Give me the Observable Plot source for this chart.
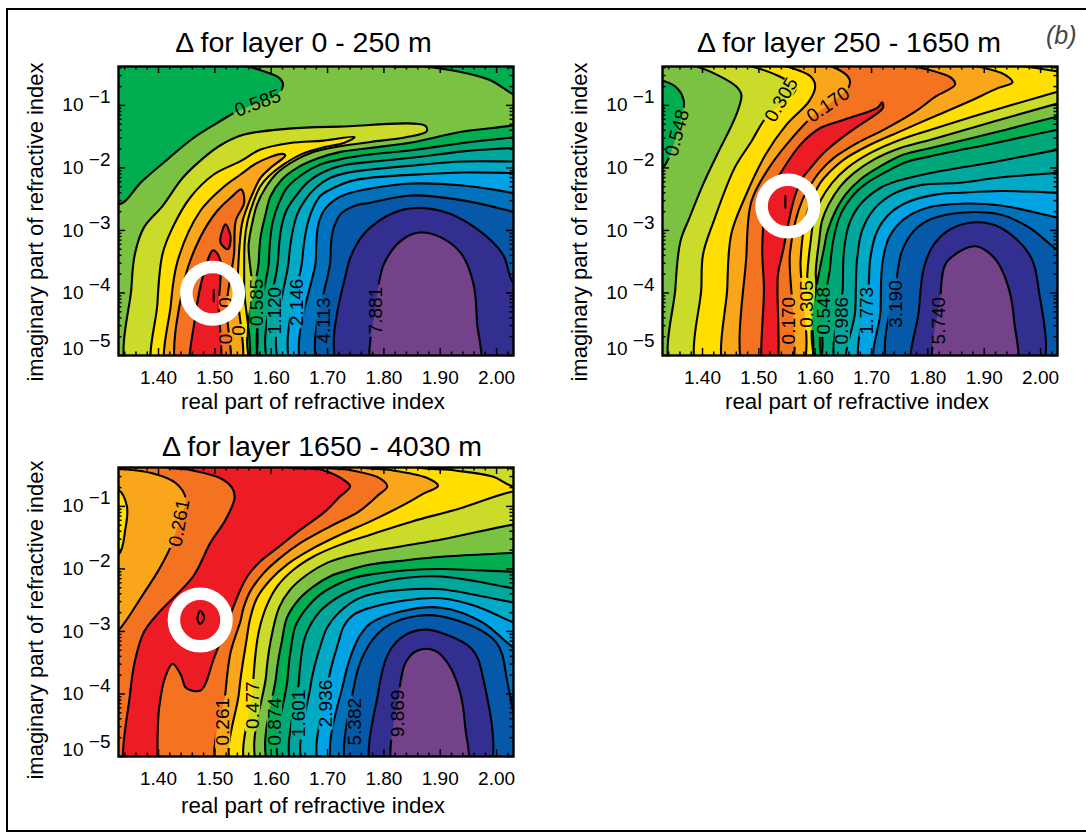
<!DOCTYPE html>
<html><head><meta charset="utf-8">
<style>
html,body{margin:0;padding:0;background:#fff;}
#page{position:relative;width:1086px;height:833px;overflow:hidden;}
#box{position:absolute;left:6px;top:8px;width:1100px;height:824px;border:2.3px solid #000;box-sizing:border-box;}
.p{position:absolute;}
</style>
<script src="https://cdn.jsdelivr.net/npm/d3@7"></script>
<script src="https://cdn.jsdelivr.net/npm/@observablehq/plot@0.6"></script>
</head><body><div id="page"><div id="box"></div></div>
<script>
// band colours, low Delta to high Delta
const bandColors=["#ed1c24","#f37321","#faa61a","#ffde00","#cbdb2a","#7cc242","#00ad4f","#00a878","#00a79d","#00aac4","#00a4e4","#0072bc","#0559a8","#322f90","#744289"];
const SE=[2.1,-5.5],NE=[2.1,0.1],NW=[1.28,0.1];
const xMajor=[1.4,1.5,1.6,1.7,1.8,1.9,2.0];
const xMinor=[1.34,1.36,1.38,1.42,1.44,1.46,1.48,1.52,1.54,1.56,1.58,1.62,1.64,1.66,1.68,1.72,1.74,1.76,1.78,1.82,1.84,1.86,1.88,1.92,1.94,1.96,1.98,2.02];
const yMajor=[1e-5,1e-4,1e-3,1e-2,1e-1];
const yMinorMult=[2,3,4,5,6,7,8,9];
// contours: [band, [[real part, log10 imaginary part], ...]]
const layerA=[
[6,[NW,[1.28,-2.3],[1.329,-2.583],[1.371,-2.211],[1.419,-1.839],[1.462,-1.521],[1.504,-1.282],[1.534,-1.122],[1.576,-.963],[1.609,-.84],[1.621,-.67],[1.615,-.564],[1.588,-.458],[1.558,-.378],[1.49,-.3],[1.47,.1]]],
[6,[[1.78,.1],[1.8,-.33],[1.872,-.378],[1.932,-.458],[1.987,-.591],[2.031,-.83],[2.1,-1.1],NE]],
[4,[[1.35,-5.3],[1.352,-3.911],[1.358,-3.38],[1.374,-2.955],[1.407,-2.61],[1.443,-2.158],[1.48,-1.839],[1.51,-1.637],[1.552,-1.467],[1.631,-1.372],[1.721,-1.34],[1.873,-1.324],[1.876,-1.414],[1.839,-1.51],[1.776,-1.584],[1.723,-1.653],[1.676,-1.743],[1.64,-1.892],[1.611,-2.078],[1.59,-2.317],[1.575,-2.583],[1.566,-2.9],[1.56,-3.22],[1.56,-5.3]]],
[3,[[1.395,-5.3],[1.398,-4.177],[1.407,-3.38],[1.425,-2.955],[1.456,-2.477],[1.498,-2.105],[1.5455,-1.892],[1.581,-1.706],[1.634,-1.6],[1.693,-1.563],[1.748,-1.505],[1.729,-1.6],[1.693,-1.669],[1.655,-1.775],[1.622,-1.945],[1.596,-2.131],[1.581,-2.29],[1.569,-2.53],[1.558,-2.848],[1.553,-3.167],[1.552,-3.911],[1.551,-5.3]]],
[2,[[1.418,-5.3],[1.422,-4.177],[1.434,-3.486],[1.474,-2.689],[1.516,-2.3],[1.5455,-2.105],[1.575,-1.919],[1.619,-1.775],[1.625,-1.8],[1.599,-1.998],[1.581,-2.158],[1.569,-2.37],[1.557,-2.636],[1.548,-2.9],[1.54,-3.911],[1.54,-5.3]]],
[1,[[1.437,-5.3],[1.446,-3.805],[1.474,-3.114],[1.504,-2.689],[1.528,-2.477],[1.547,-2.344],[1.552,-2.556],[1.537,-2.849],[1.534,-3.38],[1.521,-4.177],[1.521,-5.3]]],
[0,[[1.46,-5.3],[1.466,-4.336],[1.48,-3.699],[1.497,-3.316],[1.509,-3.459],[1.507,-4.177],[1.504,-5.3]]],
[0,[[1.519,-2.902],[1.528,-3.114],[1.523,-3.3],[1.51,-3.194],[1.513,-3.008]]],
[0,[[1.498,-3.953],[1.498,-4.134]]],
[6,[[2.1,-1.2],[2.03,-1.32],[1.94,-1.418],[1.849,-1.593],[1.776,-1.68],[1.723,-1.743],[1.682,-1.85],[1.646,-1.998],[1.619,-2.184],[1.599,-2.45],[1.59,-2.742],[1.581,-3.114],[1.578,-3.486],[1.575,-5.3],SE]],
[7,[[2.1,-1.45],[2.03,-1.511],[1.94,-1.6],[1.849,-1.718],[1.776,-1.786],[1.729,-1.85],[1.687,-1.945],[1.655,-2.105],[1.628,-2.317],[1.614,-2.556],[1.603,-2.848],[1.598,-3.167],[1.596,-3.486],[1.591,-5.3],SE]],
[8,[[2.1,-1.64],[2.03,-1.68],[1.94,-1.735],[1.849,-1.838],[1.776,-1.903],[1.735,-1.945],[1.699,-2.041],[1.667,-2.211],[1.646,-2.423],[1.628,-2.662],[1.618,-2.954],[1.612,-3.486],[1.606,-5.3],SE]],
[9,[[2.1,-1.9],[2.03,-1.898],[1.94,-1.898],[1.849,-1.963],[1.776,-2.025],[1.735,-2.078],[1.705,-2.158],[1.679,-2.317],[1.661,-2.503],[1.646,-2.742],[1.637,-3.061],[1.631,-3.486],[1.625,-5.3],SE]],
[10,[[2.1,-2.1],[2.03,-2.083],[1.94,-2.072],[1.849,-2.11],[1.776,-2.158],[1.741,-2.211],[1.711,-2.317],[1.687,-2.45],[1.672,-2.689],[1.663,-2.954],[1.658,-3.22],[1.655,-3.486],[1.644,-5.3],SE]],
[11,[[2.1,-2.5],[2.03,-2.399],[1.94,-2.28],[1.849,-2.25],[1.776,-2.33],[1.741,-2.397],[1.714,-2.503],[1.693,-2.689],[1.683,-2.928],[1.68,-3.22],[1.679,-3.486],[1.662,-5.3],SE]],
[12,[[2.1,-2.85],[2.03,-2.699],[1.94,-2.519],[1.849,-2.44],[1.776,-2.556],[1.747,-2.609],[1.723,-2.742],[1.711,-2.954],[1.706,-3.22],[1.705,-3.486],[1.691,-5.3],SE]],
[13,[[2.1,-4.2],[2.031,-3.858],[2.011,-3.38],[1.962,-2.955],[1.902,-2.689],[1.836,-2.663],[1.776,-2.95],[1.75,-3.247],[1.735,-3.6],[1.726,-5.3],SE]],
[14,[[1.784,-5.3],[1.786,-4.177],[1.79,-3.911],[1.8,-3.539],[1.83,-3.167],[1.863,-3.034],[1.902,-3.114],[1.938,-3.38],[1.959,-3.858],[1.965,-4.442],[1.965,-5.3]]]
];
const layerB=[
[6,[[1.28,-.55],[1.33,-.607],[1.355,-.724],[1.367,-.936],[1.361,-1.255],[1.349,-1.627],[1.33,-1.999],[1.28,-2.3]]],
[4,[[1.351,-5.3],[1.352,-3.911],[1.361,-3.167],[1.377,-2.796],[1.401,-2.264],[1.426,-1.786],[1.46,-1.149],[1.469,-.83],[1.46,-.697],[1.426,-.511],[1.389,-.378],[1.33,-.3],[1.31,.1],NE,[2.1,-.8],[2.032,-.963],[1.92,-1.25],[1.805,-1.548],[1.751,-1.68],[1.704,-1.866],[1.669,-2.079],[1.645,-2.291],[1.624,-2.583],[1.612,-2.849],[1.607,-3.168],[1.601,-3.645],[1.598,-5.3]]],
[3,[[1.396,-5.3],[1.398,-3.911],[1.401,-3.38],[1.42,-2.849],[1.457,-1.999],[1.487,-1.574],[1.512,-1.202],[1.565,-.75],[1.56,-.67],[1.537,-.538],[1.487,-.378],[1.43,-.3],[1.41,.1],NE,[2.1,-.6],[2.032,-.777],[1.92,-1.07],[1.805,-1.388],[1.751,-1.548],[1.698,-1.76],[1.657,-1.999],[1.63,-2.238],[1.609,-2.53],[1.598,-2.796],[1.592,-3.168],[1.586,-3.7],[1.583,-5.3]]],
[4,[[1.88,.1],[1.9,-.3],[1.974,-.378],[2.032,-.458],[2.1,-.5],NE]],
[2,[[1.444,-5.3],[1.444,-3.911],[1.451,-3.061],[1.475,-2.477],[1.512,-1.786],[1.549,-1.308],[1.589,-.936],[1.6,-.697],[1.592,-.538],[1.549,-.378],[1.5,-.3],[1.48,.1],[1.8,.1],[1.82,-.3],[1.888,-.378],[1.937,-.511],[1.95,-.633],[1.925,-.72],[1.87,-.95],[1.805,-1.202],[1.751,-1.415],[1.692,-1.654],[1.651,-1.866],[1.624,-2.079],[1.609,-2.238],[1.59,-2.6],[1.58,-2.955],[1.574,-3.486],[1.571,-5.3]]],
[1,[[1.478,-5.3],[1.478,-3.38],[1.487,-2.53],[1.518,-1.999],[1.549,-1.627],[1.589,-1.228],[1.623,-.989],[1.66,-.697],[1.66,-.564],[1.629,-.378],[1.58,-.3],[1.56,.1],[1.69,.1],[1.71,-.3],[1.777,-.378],[1.842,-.564],[1.848,-.67],[1.814,-.857],[1.778,-1.096],[1.722,-1.388],[1.675,-1.6],[1.633,-1.84],[1.609,-2.052],[1.598,-2.185],[1.578,-2.5],[1.565,-2.849],[1.555,-3.38],[1.552,-5.3]]],
[0,[[1.51,-5.3],[1.509,-3.911],[1.506,-3.274],[1.512,-2.636],[1.521,-2.37],[1.537,-2.105],[1.574,-1.627],[1.609,-1.362],[1.651,-1.229],[1.71,-1.04],[1.719,-.952],[1.72,-1.042],[1.68,-1.308],[1.651,-1.494],[1.615,-1.76],[1.592,-1.999],[1.58,-2.13],[1.565,-2.424],[1.552,-2.902],[1.543,-3.327],[1.534,-3.699],[1.528,-5.3]]],
[0,[[1.547,-2.45],[1.547,-2.636]]],
[6,[[2.1,-1.05],[2.032,-1.175],[1.92,-1.43],[1.805,-1.68],[1.757,-1.787],[1.716,-1.972],[1.68,-2.185],[1.654,-2.424],[1.636,-2.69],[1.624,-2.955],[1.618,-3.168],[1.614,-5.3],SE]],
[7,[[2.1,-1.3],[2.032,-1.388],[1.92,-1.6],[1.805,-1.813],[1.763,-1.903],[1.728,-2.052],[1.692,-2.24],[1.669,-2.42],[1.645,-2.742],[1.633,-3.114],[1.627,-3.539],[1.626,-5.3],SE]],
[8,[[2.1,-1.6],[2.032,-1.706],[1.92,-1.9],[1.805,-2.08],[1.745,-2.211],[1.716,-2.317],[1.68,-2.583],[1.66,-2.902],[1.651,-3.327],[1.649,-3.911],[1.646,-5.3],SE]],
[9,[[2.1,-2.04],[2.032,-2.078],[1.93,-2.15],[1.858,-2.238],[1.787,-2.275],[1.737,-2.423],[1.704,-2.663],[1.683,-3.008],[1.674,-3.486],[1.671,-4.283],[1.663,-5.3],SE]],
[10,[[2.1,-2.42],[2.032,-2.397],[1.93,-2.37],[1.858,-2.397],[1.816,-2.423],[1.769,-2.53],[1.734,-2.716],[1.71,-3.008],[1.698,-3.433],[1.695,-3.911],[1.688,-5.3],SE]],
[11,[[2.1,-2.9],[2.032,-2.796],[1.93,-2.6],[1.858,-2.572],[1.799,-2.636],[1.757,-2.822],[1.731,-3.114],[1.719,-3.539],[1.716,-4.283],[1.712,-5.3],SE]],
[12,[[2.1,-3.7],[2.032,-3.327],[1.98,-2.955],[1.93,-2.75],[1.858,-2.716],[1.805,-2.822],[1.775,-3.008],[1.754,-3.327],[1.745,-3.752],[1.737,-5.3],SE]],
[13,[[1.777,-5.3],[1.784,-4.283],[1.793,-3.592],[1.811,-3.22],[1.84,-2.981],[1.885,-2.87],[1.93,-2.96],[1.98,-3.38],[1.996,-3.911],[1.996,-5.3]]],
[14,[[1.816,-5.3],[1.822,-4.07],[1.831,-3.539],[1.858,-3.327],[1.875,-3.26],[1.891,-3.263],[1.922,-3.486],[1.943,-3.911],[1.953,-4.442],[1.953,-5.3]]]
];
const layerC=[
[2,[[1.28,-.38],[1.33,-.4],[1.389,-.47],[1.431,-.629],[1.448,-.868],[1.434,-1.318],[1.422,-1.636],[1.401,-2.007],[1.371,-2.43],[1.329,-2.987],[1.28,-3.4]]],
[3,[[1.329,-.735],[1.344,-1],[1.341,-1.371],[1.329,-1.768],[1.29,-1.8],[1.29,-.7]]],
[0,[[1.344,-5.3],[1.35,-3.967],[1.359,-3.437],[1.374,-3.013],[1.401,-2.695],[1.462,-2.113],[1.492,-1.583],[1.519,-1.212],[1.535,-.868],[1.531,-.709],[1.51,-.55],[1.456,-.417],[1.4,-.33],[1.38,.1],[1.6,.1],[1.62,-.33],[1.691,-.417],[1.733,-.603],[1.74,-.682],[1.721,-.85],[1.696,-1.08],[1.652,-1.372],[1.611,-1.664],[1.581,-1.877],[1.56,-2.089],[1.5455,-2.328],[1.516,-3.013],[1.498,-3.437],[1.475,-3.94],[1.449,-3.903],[1.44,-3.702],[1.425,-3.517],[1.413,-3.702],[1.401,-4.232],[1.398,-5],[1.398,-5.3]]],
[0,[[1.474,-2.669],[1.481,-2.775],[1.474,-2.881],[1.469,-2.801]]],
[2,[[1.512,-5.3],[1.519,-3.967],[1.528,-3.331],[1.5455,-2.833],[1.551,-2.62],[1.563,-2.355],[1.587,-2.063],[1.616,-1.824],[1.652,-1.585],[1.705,-1.319],[1.756,-1.08],[1.79,-.82],[1.806,-.682],[1.793,-.55],[1.739,-.417],[1.68,-.33],[1.66,.1],NE,SE]],
[3,[[1.538,-5.3],[1.543,-3.967],[1.556,-3.152],[1.563,-2.78],[1.575,-2.461],[1.599,-2.169],[1.628,-1.93],[1.67,-1.691],[1.723,-1.452],[1.776,-1.239],[1.83,-1],[1.872,-.788],[1.896,-.672],[1.878,-.55],[1.812,-.417],[1.75,-.33],[1.73,.1],NE,SE]],
[4,[[1.564,-5.3],[1.567,-3.967],[1.575,-3.152],[1.581,-2.886],[1.593,-2.567],[1.611,-2.275],[1.64,-2.01],[1.676,-1.797],[1.723,-1.611],[1.776,-1.452],[1.85,-1.24],[1.932,-1.04],[2.029,-.762],[2.08,-.72],[2.029,-.682],[1.993,-.523],[1.92,-.417],[1.85,-.33],[1.83,.1],NE,SE]],
[5,[[1.585,-5.3],[1.591,-3.702],[1.599,-3.152],[1.614,-2.62],[1.634,-2.328],[1.664,-2.089],[1.699,-1.903],[1.735,-1.797],[1.776,-1.72],[1.902,-1.53],[2.029,-1.291],[2.1,-1.2],SE]],
[6,[[1.605,-5.3],[1.609,-3.702],[1.619,-3.152],[1.628,-2.78],[1.649,-2.488],[1.676,-2.275],[1.705,-2.116],[1.741,-2.01],[1.776,-1.93],[1.84,-1.86],[1.902,-1.805],[2.029,-1.742],[2.1,-1.7],SE]],
[7,[[1.625,-5.3],[1.629,-3.755],[1.637,-3.152],[1.643,-2.913],[1.661,-2.647],[1.687,-2.408],[1.717,-2.249],[1.747,-2.142],[1.776,-2.09],[1.84,-2.02],[1.902,-2],[2.029,-2.044],[2.1,-2.05],SE]],
[8,[[1.646,-5.3],[1.649,-3.808],[1.658,-3.152],[1.667,-2.939],[1.687,-2.674],[1.717,-2.461],[1.747,-2.33],[1.776,-2.25],[1.84,-2.14],[1.902,-2.12],[1.965,-2.2],[2.029,-2.309],[2.1,-2.4],SE]],
[9,[[1.666,-5.3],[1.67,-3.861],[1.69,-3.152],[1.699,-2.939],[1.717,-2.727],[1.747,-2.51],[1.776,-2.41],[1.84,-2.33],[1.902,-2.325],[1.965,-2.42],[2.029,-2.536],[2.1,-2.65],SE]],
[10,[[1.694,-5.3],[1.7,-3.861],[1.72,-3.152],[1.729,-2.913],[1.747,-2.727],[1.776,-2.62],[1.84,-2.5],[1.902,-2.47],[1.965,-2.6],[2.029,-2.854],[2.1,-3.1],SE]],
[11,[[1.717,-5.3],[1.73,-3.75],[1.752,-3.152],[1.761,-3.019],[1.776,-2.87],[1.83,-2.68],[1.902,-2.62],[1.975,-2.854],[2.029,-3.252],[2.1,-3.6],SE]],
[12,[[1.742,-5.3],[1.745,-3.967],[1.766,-3.331],[1.8,-2.95],[1.86,-2.748],[1.932,-2.828],[1.999,-3.172],[2.017,-3.702],[2.021,-5.3]]],
[13,[[1.784,-5.3],[1.79,-3.967],[1.809,-3.331],[1.836,-3.066],[1.872,-2.971],[1.908,-3.04],[1.956,-3.278],[1.975,-3.702],[1.981,-5.3]]],
[14,[[1.821,-5.3],[1.827,-3.967],[1.839,-3.49],[1.86,-3.305],[1.89,-3.305],[1.914,-3.517],[1.935,-3.967],[1.944,-4.497],[1.944,-5.3]]]
];
// contour labels: [real part, log10 imaginary part, text, angle]
const labelsA=[[1.576,-.963,"0.585",-20],[1.575,-4.15,"0.585",-90],[1.606,-4.283,"1.120",-90],[1.646,-4.15,"2.146",-90],[1.694,-4.442,"4.113",-90],[1.786,-4.283,"7.881",-90],[1.519,-4.15,"0",-90],[1.519,-4.734,"0",-90],[1.543,-4.6,"0",-90]];
const labelsB=[[1.355,-1.441,"0.548",-75],[1.54,-.91,"0.305",-60],[1.623,-.989,"0.170",-35],[1.553,-4.442,"0.170",-90],[1.586,-4.177,"0.305",-90],[1.616,-4.283,"0.548",-90],[1.648,-4.442,"0.986",-90],[1.692,-4.283,"1.773",-90],[1.743,-4.177,"3.190",-90],[1.82,-4.442,"5.740",-90]];
const labelsC=[[1.437,-1.265,"0.261",-80],[1.514,-4.444,"0.261",-90],[1.567,-4.179,"0.477",-90],[1.606,-4.444,"0.874",-90],[1.649,-4.311,"1.601",-90],[1.697,-4.152,"2.936",-90],[1.748,-4.444,"5.382",-90],[1.824,-4.311,"9.869",-90]];
const titles=["\u0394 for layer 0 - 250 m","\u0394 for layer 250 - 1650 m","\u0394 for layer 1650 - 4030 m"];
const xTitle="real part of refractive index", yTitle="imaginary part of refractive index";
const circles=[[1.496,-4.004],[1.5515,-2.61],[1.474,-2.817]];
const baseBands=[5,5,1];
const ff="'Liberation Sans',Arial,sans-serif";
const labelSize=19;
const exponent=d=>"\u2212"+Math.round(-Math.log10(d));
function panel(i,contours,labels,box,extra=[]){
  const H=289;
  const yMinor=yMajor.flatMap(d=>yMinorMult.map(m=>d*m)).filter(d=>d<0.419);
  const pos={x:d=>d[0],y:d=>10**d[1]};
  const fig=Plot.plot({
    width:box.w,height:box.h,marginLeft:box.l,marginRight:box.r,marginTop:box.t,marginBottom:box.h-box.t-H,
    x:{domain:[1.329,2.03]},y:{type:"log",domain:[1e-5,0.419]},
    style:{background:"transparent",fontFamily:ff,color:"#000",overflow:"visible"},
    marks:[
      Plot.frame({fill:bandColors[baseBands[i]]}),
      ...contours.map(([b,pts])=>Plot.line(pts,{...pos,fill:bandColors[b],stroke:"none",curve:"catmull-rom-closed",clip:true})),
      ...contours.map(([b,pts])=>Plot.line(pts,{...pos,stroke:"#000",strokeWidth:2.1,curve:"catmull-rom-closed",clip:true})),
      ...labels.map(l=>Plot.text([l],{...pos,text:d=>d[2],rotate:l[3],fontSize:labelSize,fill:"#000",clip:true})),
      Plot.dot([circles[i]],{...pos,r:26.3,fill:"none",stroke:"#fff",strokeWidth:12.5}),
      Plot.tickX(xMajor,{x:d=>d,insetTop:H-7,strokeWidth:1.5,stroke:"#000"}),
      Plot.tickX(xMajor,{x:d=>d,insetBottom:H-7,strokeWidth:1.5,stroke:"#000"}),
      Plot.tickX(xMinor,{x:d=>d,insetTop:H-3.5,strokeWidth:1.5,stroke:"#000"}),
      Plot.tickX(xMinor,{x:d=>d,insetBottom:H-3.5,strokeWidth:1.5,stroke:"#000"}),
      Plot.tickY(yMajor,{y:d=>d,insetRight:395-7,strokeWidth:1.5,stroke:"#000"}),
      Plot.tickY(yMajor,{y:d=>d,insetLeft:395-7,strokeWidth:1.5,stroke:"#000"}),
      Plot.tickY(yMinor,{y:d=>d,insetRight:395-3.5,strokeWidth:1.5,stroke:"#000"}),
      Plot.tickY(yMinor,{y:d=>d,insetLeft:395-3.5,strokeWidth:1.5,stroke:"#000"}),
      Plot.frame({stroke:"#000",strokeWidth:2.4}),
      Plot.axisX({ticks:xMajor,tickSize:0,tickPadding:15,tickFormat:d3.format(".2f"),fontSize:19,label:null}),
      Plot.axisY({ticks:yMajor.slice(1),tickSize:0,tickPadding:35,tickFormat:()=>"10",fontSize:19,label:null}),
      Plot.axisY({ticks:yMajor.slice(0,1),tickSize:0,tickPadding:35,tickFormat:()=>"10",fontSize:19,dy:-7,label:null}),
      Plot.axisY({ticks:yMajor.slice(1),tickSize:0,tickPadding:8,tickFormat:exponent,fontSize:19,dy:-8,label:null}),
      Plot.axisY({ticks:yMajor.slice(0,1),tickSize:0,tickPadding:8,tickFormat:exponent,fontSize:19,dy:-15,label:null}),
      Plot.text([xTitle],{frameAnchor:"bottom",dy:box.xd,dx:-3,fontSize:22.3,lineAnchor:"bottom",text:d=>d}),
      Plot.text([yTitle],{frameAnchor:"left",textAnchor:"middle",dx:-83,dy:box.yd,rotate:-90,fontSize:22,text:d=>d}),
      Plot.text([titles[i]],{frameAnchor:"top",dy:box.td,dx:box.tx,fontSize:28.5,lineAnchor:"bottom",text:d=>d}),
      ...extra
    ]
  });
  fig.classList.add("p");fig.style.left=box.x+"px";fig.style.top=box.y+"px";
  document.getElementById("page").appendChild(fig);
  // the contour lines stop at their labels, the colour boundaries do not
  const sx=fig.scale("x"),sy=fig.scale("y"),ns="http://www.w3.org/2000/svg";
  const mask=document.createElementNS(ns,"mask");
  mask.setAttribute("id","gap"+i);mask.setAttribute("maskUnits","userSpaceOnUse");
  for(const [k,v] of [["x",0],["y",0],["width",box.w],["height",box.h]])mask.setAttribute(k,v);
  const bg=document.createElementNS(ns,"rect");
  bg.setAttribute("width",box.w);bg.setAttribute("height",box.h);bg.setAttribute("fill","#fff");mask.appendChild(bg);
  for(const l of labels){
    const w=l[2].length*labelSize*.52+3,h=labelSize*.8,r=document.createElementNS(ns,"rect");
    r.setAttribute("x",-w/2);r.setAttribute("y",-h/2);r.setAttribute("width",w);r.setAttribute("height",h);r.setAttribute("fill","#000");
    r.setAttribute("transform",`translate(${sx.apply(l[0])},${sy.apply(10**l[1])}) rotate(${l[3]})`);
    mask.appendChild(r);
  }
  fig.appendChild(mask);
  fig.querySelectorAll('g[aria-label="line"] path').forEach(p=>{if(getComputedStyle(p).fill==="none")p.setAttribute("mask",`url(#gap${i})`);});
}
panel(0,layerA,labelsA,{x:0,y:0,w:540,h:420,l:118,r:27,t:66,xd:53,td:-15,tx:-12.5,yd:11});
panel(1,layerB,labelsB,{x:545,y:0,w:541,h:420,l:117,r:29,t:66,xd:53,td:-15,tx:-11,yd:11},[
  Plot.text(["(b)"],{frameAnchor:"top-right",dx:19,dy:-40,fontSize:25,fontStyle:"italic",fill:"#444",text:d=>d})]);
panel(2,layerC,labelsC,{x:0,y:420,w:540,h:413,l:118,r:27,t:47,xd:56,td:-12,tx:6,yd:8});
</script></body></html>
